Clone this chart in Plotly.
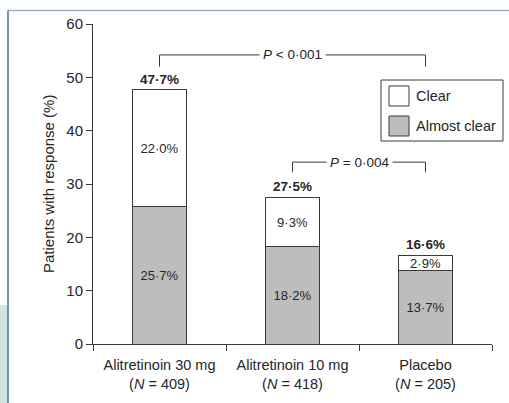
import plotly.graph_objects as go

# ---- data ----
categories = ["Alitretinoin 30 mg", "Alitretinoin 10 mg", "Placebo"]
n_patients = [409, 418, 205]
almost_clear = [25.7, 18.2, 13.7]
clear = [22.0, 9.3, 2.9]
totals = [47.7, 27.5, 16.6]
series_names = ["Clear", "Almost clear"]
y_ticks = [0, 10, 20, 30, 40, 50, 60]
p_labels = ["P < 0·001", "P = 0·004"]

# ---- layout geometry (pixels) ----
W, H = 509, 403
L, R, T, B = 93, 17, 24, 59
PW, PH = W - L - R, H - T - B


def px(x):
    return (x - L) / PW


def py(y):
    return (H - B - y) / PH


FONT = "Liberation Sans, Arial, sans-serif"
TXT = "#262626"
LINE = "#3a3a3a"
GRAY = "#bdbdbd"


def fmt(v):
    return f"{v:.1f}".replace(".", "·") + "%"


ticktext = [f"{c}<br>(<i>N</i> = {n})" for c, n in zip(categories, n_patients)]

fig = go.Figure()
fig.add_trace(go.Bar(
    x=categories, y=almost_clear, name=series_names[1], width=0.4,
    marker=dict(color=GRAY, line=dict(color=LINE, width=1)),
    text=[fmt(v) for v in almost_clear], textposition="inside",
    insidetextanchor="middle", textangle=0, constraintext="none",
    textfont=dict(family=FONT, size=13, color=TXT), showlegend=False,
))
fig.add_trace(go.Bar(
    x=categories, y=clear, name=series_names[0], width=0.4,
    marker=dict(color="white", line=dict(color=LINE, width=1)),
    text=[fmt(v) for v in clear], textposition="inside",
    insidetextanchor="middle", textangle=0, constraintext="none",
    textfont=dict(family=FONT, size=13, color=TXT), showlegend=False,
))

annotations = []
for c, t in zip(categories, totals):
    annotations.append(dict(
        x=c, y=t, xref="x", yref="y", text=f"<b>{fmt(t)}</b>",
        showarrow=False, yanchor="bottom", yshift=1,
        font=dict(family=FONT, size=13.5, color=TXT)))

# significance brackets
shapes = []
brackets = [(0, 2, 54.2, 52.0, 1.0, p_labels[0]), (1, 2, 34.1, 32.2, 1.5, p_labels[1])]
for x0, x1, ytop, ybot, xt, lab in brackets:
    shapes.append(dict(type="path", xref="x", yref="y",
                       path=f"M {x0},{ybot} L {x0},{ytop} L {x1},{ytop} L {x1},{ybot}",
                       line=dict(color=LINE, width=1)))
    lab_html = lab.replace("<", "&lt;").replace("P ", "<i>P</i> ", 1)
    annotations.append(dict(x=xt, y=ytop, xref="x", yref="y", text=lab_html,
                            showarrow=False, bgcolor="white", borderpad=3,
                            font=dict(family=FONT, size=13.5, color=TXT)))

# legend (box, swatches, labels)
shapes.append(dict(type="rect", xref="paper", yref="paper",
                   x0=px(381), x1=px(503), y0=py(141), y1=py(80),
                   line=dict(color=LINE, width=1), fillcolor="white"))
legend_items = [("white", 96, series_names[0]), (GRAY, 126, series_names[1])]
for col, cy, name in legend_items:
    shapes.append(dict(type="rect", xref="paper", yref="paper",
                       x0=px(389), x1=px(409), y0=py(cy + 10), y1=py(cy - 10),
                       line=dict(color=LINE, width=1), fillcolor=col))
    annotations.append(dict(x=px(414), y=py(cy), xref="paper", yref="paper",
                            text=name, showarrow=False, xanchor="left",
                            yanchor="middle",
                            font=dict(family=FONT, size=14.5, color=TXT)))

# y-axis title
annotations.append(dict(x=px(48), y=0.5, xref="paper", yref="paper",
                        text="Patients with response (%)", textangle=-90,
                        showarrow=False, xanchor="center", yanchor="middle",
                        font=dict(family=FONT, size=15, color=TXT)))

# page frame decorations
shapes.append(dict(type="rect", xref="paper", yref="paper", layer="below",
                   x0=px(0), x1=px(8), y0=py(403), y1=py(305),
                   line=dict(width=0), fillcolor="#cfe5db"))
shapes.append(dict(type="line", xref="paper", yref="paper",
                   x0=px(8), x1=px(509), y0=py(10.5), y1=py(10.5),
                   line=dict(color="#9ab0c8", width=1.5)))
shapes.append(dict(type="line", xref="paper", yref="paper",
                   x0=px(8), x1=px(8), y0=py(10.5), y1=py(403),
                   line=dict(color="#4a72a6", width=1.5)))

fig.update_layout(
    width=W, height=H, margin=dict(l=L, r=R, t=T, b=B),
    barmode="stack", plot_bgcolor="white", paper_bgcolor="white",
    font=dict(family=FONT, color=TXT),
    shapes=shapes, annotations=annotations,
    uniformtext=dict(mode="show", minsize=13),
    xaxis=dict(type="category", range=[-0.5, 2.5], tickmode="array",
               tickvals=categories, ticktext=ticktext, tickson="boundaries",
               ticks="outside", ticklen=6, tickcolor=LINE, showline=True,
               linecolor=LINE, linewidth=1, showgrid=False, ticklabelstandoff=8,
               tickfont=dict(family=FONT, size=14.5, color=TXT)),
    yaxis=dict(range=[0, 60], tickvals=y_ticks, ticks="outside", ticklen=6,
               tickcolor=LINE, showline=True, linecolor=LINE, linewidth=1,
               showgrid=False, zeroline=False,
               tickfont=dict(family=FONT, size=15, color=TXT)),
)

fig.write_html(
    "out.html",
    config={"displayModeBar": False},
    post_script="document.body.style.margin='0';document.body.style.overflow='hidden';",
)
